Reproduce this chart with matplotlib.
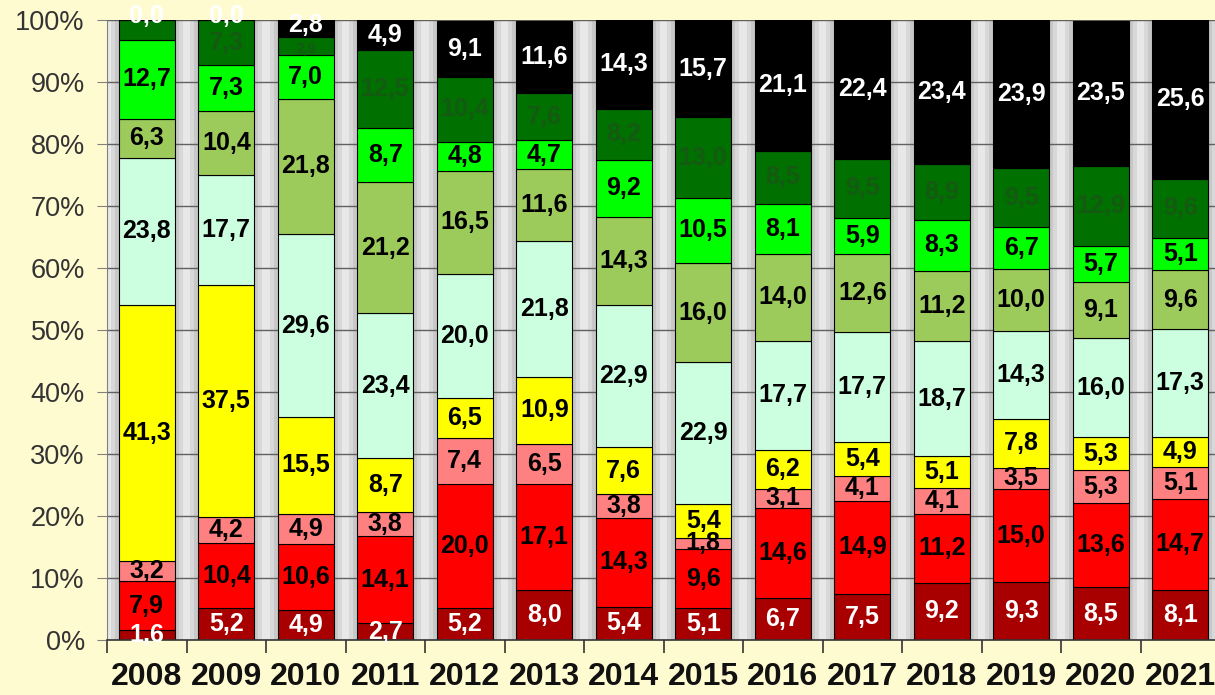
import matplotlib
matplotlib.use("Agg")
import matplotlib.pyplot as plt
import numpy as np

years = ["2008", "2009", "2010", "2011", "2012", "2013", "2014",
         "2015", "2016", "2017", "2018", "2019", "2020", "2021"]

dark_red = [1.6, 5.2, 4.9, 2.7, 5.2, 8.0, 5.4, 5.1, 6.7, 7.5, 9.2, 9.3, 8.5, 8.1]
red = [7.9, 10.4, 10.6, 14.1, 20.0, 17.1, 14.3, 9.6, 14.6, 14.9, 11.2, 15.0, 13.6, 14.7]
pink = [3.2, 4.2, 4.9, 3.8, 7.4, 6.5, 3.8, 1.8, 3.1, 4.1, 4.1, 3.5, 5.3, 5.1]
yellow = [41.3, 37.5, 15.5, 8.7, 6.5, 10.9, 7.6, 5.4, 6.2, 5.4, 5.1, 7.8, 5.3, 4.9]
pale = [23.8, 17.7, 29.6, 23.4, 20.0, 21.8, 22.9, 22.9, 17.7, 17.7, 18.7, 14.3, 16.0, 17.3]
olive = [6.3, 10.4, 21.8, 21.2, 16.5, 11.6, 14.3, 16.0, 14.0, 12.6, 11.2, 10.0, 9.1, 9.6]
bright_green = [12.7, 7.3, 7.0, 8.7, 4.8, 4.7, 9.2, 10.5, 8.1, 5.9, 8.3, 6.7, 5.7, 5.1]
dark_green = [3.2, 7.3, 2.9, 12.5, 10.4, 7.6, 8.2, 13.0, 8.5, 9.5, 8.9, 9.5, 12.9, 9.6]
black = [0.0, 0.0, 2.8, 4.9, 9.1, 11.6, 14.3, 15.7, 21.1, 22.4, 23.4, 23.9, 23.5, 25.6]

series = [dark_red, red, pink, yellow, pale, olive, bright_green, dark_green, black]
colors = ["#A80000", "#FF0000", "#FF8080", "#FFFF00", "#CCFFE0",
          "#9CCB5C", "#00FF00", "#007000", "#000000"]
label_colors = ["white", "black", "black", "black", "black",
                "black", "black", "#145A12", "white"]

plt.rcParams["font.family"] = ["Liberation Sans", "DejaVu Sans"]

fig = plt.figure(figsize=(12.15, 6.95), dpi=100, facecolor="#FFFBD0")
ax = fig.add_axes([107 / 1215, 1 - 640 / 695, 1113 / 1215, 620 / 695])
ax.set_facecolor("#C8C8C8")

n = len(years)
x = np.arange(n)

# decorative lighter stripes in the gaps
for i in range(-1, n):
    ax.axvspan(i + 0.5 - 0.10, i + 0.5 + 0.10, color="#D8D8D8", zorder=0, lw=0)
    ax.axvspan(i + 0.5 - 0.05, i + 0.5 + 0.05, color="#E8E8E8", zorder=0, lw=0)

for yv in np.arange(10, 101, 10):
    ax.axhline(yv, color="#606060", lw=1.0, zorder=1)

bottom = np.zeros(n)
for k, (vals, col, lc) in enumerate(zip(series, colors, label_colors)):
    vals = np.array(vals)
    ax.bar(x, vals, width=0.7, bottom=bottom, color=col,
           edgecolor="black", linewidth=0.8, zorder=2)
    for i in range(n):
        # the 2008 dark-green label is hidden under the "0,0" label in the reference
        if k == 7 and vals[i] < 3.5 and black[i] == 0:
            continue
        yc = bottom[i] + vals[i] / 2
        fs = 18
        if k == 8:
            if vals[i] == 0:
                yc = 100.6
            elif vals[i] < 4:
                yc = 99.2
        if k == 7 and vals[i] < 4:
            fs = 10
            yc = bottom[i] + vals[i] / 2 - 0.3
        ax.text(x[i], yc, f"{vals[i]:.1f}".replace(".", ","),
                ha="center", va="center", fontsize=fs, fontweight="bold",
                color=lc, zorder=3, clip_on=False)
    bottom += vals

ax.set_xlim(-0.5, n - 0.5)
ax.set_ylim(0, 100)
ax.set_yticks(np.arange(0, 101, 10))
ax.set_yticklabels([f"{v}%" for v in range(0, 101, 10)], fontsize=19.5, color="#333333")
ax.tick_params(axis="y", direction="out", length=7, color="#808080", pad=9)

ax.set_xticks(x)
ax.set_xticklabels(years, fontsize=23, fontweight="bold", color="#111111")
ax.tick_params(axis="x", which="major", length=0, pad=16)
ax.set_xticks(np.arange(-0.5, n, 1.0), minor=True)
ax.tick_params(axis="x", which="minor", length=9, color="#333333", width=1.2)

for s in ["top", "right"]:
    ax.spines[s].set_visible(False)
ax.spines["left"].set_color("#808080")
ax.spines["bottom"].set_color("#333333")
ax.spines["bottom"].set_linewidth(1.2)

fig.savefig("out.png", dpi=100, facecolor=fig.get_facecolor())
